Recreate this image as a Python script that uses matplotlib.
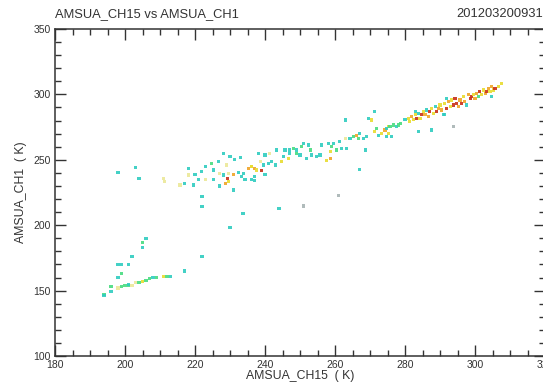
import matplotlib
matplotlib.use("Agg")
import matplotlib.pyplot as plt
from matplotlib.ticker import MultipleLocator

plt.rcParams['font.family'] = ['Liberation Sans', 'DejaVu Sans']

title_left = "AMSUA_CH15 vs AMSUA_CH1"
title_right = "201203200931"
x_label = "AMSUA_CH15  ( K)"
y_label = "AMSUA_CH1  ( K)"

# density level of each point: 1 cyan, 2 green, 3 pale yellow, 4 yellow, 5 orange, 6 red, 0 grey
ch15 = [
    # lower branch
    194, 194, 196, 196, 198, 199, 200, 201, 201, 202, 203, 204, 205, 206, 207, 208, 209, 211, 212, 213,
    198, 199, 198, 199, 201, 202, 205, 205, 206, 217, 222, 230, 233.7, 244, 222, 222, 198, 203, 204,
    # middle band (left part)
    228.1, 230, 231.4, 232.9, 224.8, 226.7, 229, 222.9, 221.9, 225.2, 227.1, 228.1, 229.5, 231, 232.4,
    233.8, 235.2, 236.2, 233.3, 234.3, 229.5, 228.6, 227.1, 225.2, 222.9, 220.9, 218.1, 220, 215.7, 217.1,
    210.9, 211.4, 218.1, 231, 236.2, 219.5, 229.4, 250.9, 260.9,
    # middle band (centre)
    236.2, 236.9, 237.6, 237.1, 236.9, 239.0, 240.0, 239.5, 238.6, 238.1, 240.0, 241.4, 241.9, 242.9,
    243.3, 244.8, 245.2, 246.7, 247.1, 248.1, 249.0, 249.0, 250.5, 250.9, 252.4, 252.9, 253.3, 254.8,
    255.7, 256.2, 258.1, 258.6, 259.0, 259.5, 260.5, 261.4, 261.9, 262.9, 263.3, 264.3, 265.2, 266.2,
    266.7, 267.1, 268.1, 269.0, 269.5, 270.5, 271.4, 271.9, 272.4, 273.3, 274.3, 274.8, 275.2, 271.4,
    262.9, 268.6, 267.1, 247.1, 250.0, 251.9, 257.6, 258.6, 241.0, 245.7,
    # upper band
    274.8, 275.2, 275.7, 276.7, 277.6, 278.1, 278.6, 280.0, 281.0, 281.4, 281.9, 282.4, 282.9, 283.3,
    283.8, 284.3, 284.8, 285.2, 285.7, 286.2, 286.7, 287.1, 287.6, 288.1, 288.6, 289.0, 289.5, 290.0,
    290.5, 291.0, 291.4, 291.9, 291.9, 292.4, 292.9, 293.3, 293.8, 294.3, 294.8, 295.2, 295.7, 296.2,
    296.7, 297.1, 297.6, 298.1, 298.6, 299.0, 299.5, 300.0, 300.5, 301.0, 301.4, 301.9, 302.4, 302.9,
    303.3, 303.8, 304.3, 304.8, 305.2, 305.7, 306.7, 307.6, 304.8, 282.9, 283.8, 287.6, 293.8, 276.2,
    291.4,
]
ch1 = [
    147, 146, 149, 153, 152, 153, 154, 154, 155, 154, 156, 156, 157, 158, 159, 160, 160, 161, 161, 161,
    160, 163, 170, 170, 170, 176, 183, 187, 190, 165, 176, 198, 209, 213, 214, 222, 240, 244, 236,
    255.0, 252.4, 250.4, 251.9, 247.3, 248.6, 246, 244.7, 240.9, 242.2, 239.6, 238.4, 239.6, 239.1, 240.1,
    239.6, 243.4, 244.7, 237.2, 235.2, 233.5, 232.2, 230, 235.2, 234.6, 234.6, 238.4, 239.1, 230.7, 232,
    235.8, 233.5, 243.4, 226.9, 234.6, 230.7, 236, 214.7, 223,
    244.7, 243.5, 242.2, 237.1, 234.5, 241.7, 239.1, 246.0, 248.6, 254.9, 253.7, 254.9, 248.6, 246.0,
    257.5, 248.6, 252.4, 251.1, 254.9, 258.7, 257.5, 254.9, 260.0, 262.6, 261.3, 257.5, 253.7, 252.4,
    253.7, 261.3, 262.6, 256.2, 260.0, 262.6, 257.5, 263.8, 258.7, 266.4, 258.7, 266.4, 267.7, 268.9,
    266.4, 270.2, 266.4, 267.7, 281.7, 280.4, 271.5, 274.0, 268.9, 270.2, 272.8, 267.7, 275.3, 286.8,
    280.4, 257.5, 242.7, 257.5, 253.7, 251.1, 249.8, 251.1, 247.3, 257.5,
    274.1, 270.3, 275.4, 276.6, 275.4, 276.6, 277.9, 280.5, 281.7, 279.2, 283.0, 280.5, 284.3, 281.7,
    285.5, 281.7, 284.3, 286.8, 284.3, 288.1, 283.0, 286.8, 289.4, 285.5, 290.6, 286.8, 289.4, 291.9,
    288.1, 284.3, 293.2, 297.0, 289.4, 294.5, 290.6, 295.7, 291.9, 297.0, 293.2, 290.6, 295.7, 293.2,
    298.3, 294.5, 291.9, 299.6, 297.0, 298.3, 299.6, 297.0, 300.8, 298.3, 302.1, 299.6, 303.4, 300.8,
    302.1, 304.7, 302.1, 305.9, 303.4, 304.7, 305.9, 308.5, 298.3, 286.8, 271.5, 272.8, 275.4, 267.7,
    284.3,
]
level = [
    2, 1, 1, 2, 3, 2, 2, 2, 1, 3, 3, 2, 4, 2, 2, 1, 2, 4, 2, 1,
    1, 2, 1, 1, 1, 1, 1, 2, 1, 1, 1, 1, 1, 1, 1, 1, 1, 1, 1,
    1, 1, 1, 1, 2, 1, 3, 1, 1, 1, 3, 1, 3, 5, 1,
    1, 5, 4, 1, 1, 4, 5, 1, 1, 3, 1, 3, 1, 3, 1,
    3, 3, 1, 1, 1, 1, 6, 0, 0,
    4, 5, 4, 1, 1, 6, 1, 1, 3, 1, 1, 3, 1, 1,
    1, 4, 1, 4, 1, 2, 1, 2, 2, 1, 1, 2, 1, 1,
    1, 1, 1, 4, 2, 1, 2, 1, 1, 3, 1, 1, 2, 5,
    2, 1, 1, 1, 1, 4, 4, 2, 1, 4, 5, 1, 4, 1,
    1, 1, 1, 1, 1, 1, 4, 5, 1, 1,
    1, 4, 2, 2, 1, 2, 2, 1, 4, 4, 5, 4, 4, 6,
    1, 4, 6, 4, 5, 1, 5, 6, 4, 4, 1, 6, 5, 4,
    5, 1, 4, 1, 6, 5, 4, 4, 6, 6, 6, 5, 5, 6,
    4, 5, 1, 5, 6, 6, 4, 5, 5, 2, 6, 4, 4, 5,
    6, 5, 4, 5, 4, 6, 4, 4, 1, 1, 1, 1, 0, 1,
    1,
]

palette = {0: '#a8b4b4', 1: '#30ccc0', 2: '#48dc80', 3: '#ece898', 4: '#e8dc30',
           5: '#f0a428', 6: '#c83018'}
colors = [palette[v] for v in level]

fig = plt.figure(figsize=(5.43, 3.83), dpi=100)
ax = fig.add_axes([55 / 543, 27 / 383, 490 / 543, 327 / 383])

ax.scatter(ch15, ch1, s=5, marker='s', c=colors, edgecolors='none', alpha=0.9)

ax.set_xlim(180, 320)
ax.set_ylim(100, 350)
ax.xaxis.set_major_locator(MultipleLocator(20))
ax.xaxis.set_minor_locator(MultipleLocator(5))
ax.yaxis.set_major_locator(MultipleLocator(50))
ax.yaxis.set_minor_locator(MultipleLocator(10))
ax.tick_params(which='both', direction='in', top=True, right=True, colors='#333333',
               labelsize=7.5, width=1.0, pad=3)
ax.tick_params(which='major', length=8)
ax.tick_params(which='minor', length=4)
for sp in ax.spines.values():
    sp.set_color('#333333')
    sp.set_linewidth(1.1)

ax.set_xlabel(x_label, fontsize=8.8, color='#333333', labelpad=0)
ax.set_ylabel(y_label, fontsize=8.8, color='#333333', labelpad=5)

fig.text(55 / 543, 1 - 17 / 383, title_left, fontsize=9.3, color='#333333', ha='left', va='baseline')
fig.text(543 / 543, 1 - 17 / 383, title_right, fontsize=9.3, color='#333333', ha='right', va='baseline')

fig.savefig('out.png', dpi=100)
